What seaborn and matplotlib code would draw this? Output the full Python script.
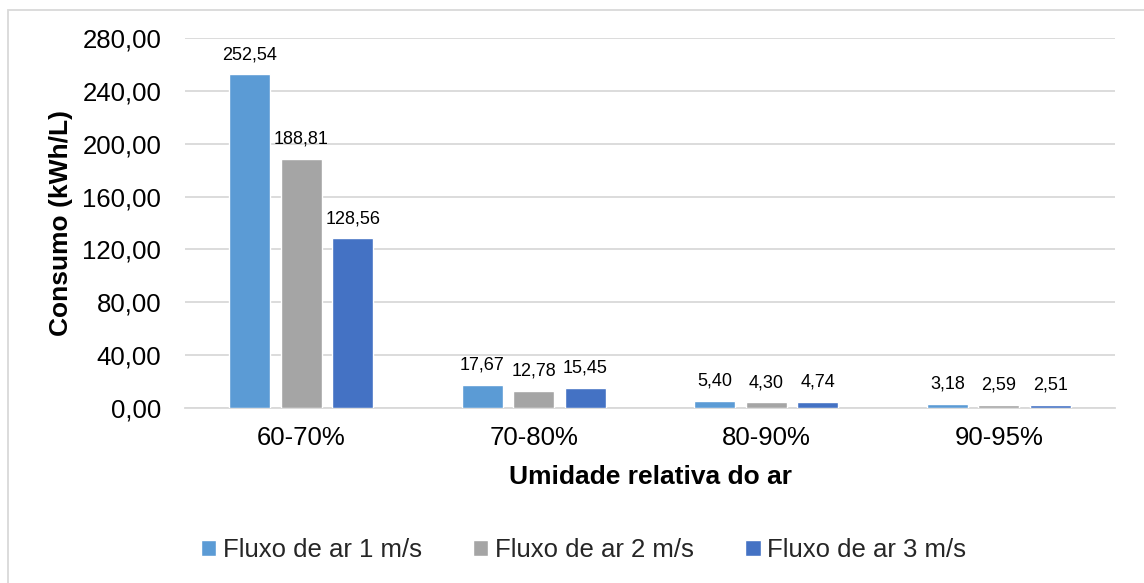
import matplotlib
matplotlib.use("Agg")
import matplotlib.pyplot as plt
from matplotlib.patches import Rectangle
import seaborn as sns
import pandas as pd

categorias = ["60-70%", "70-80%", "80-90%", "90-95%"]
series = ["Fluxo de ar 1 m/s", "Fluxo de ar 2 m/s", "Fluxo de ar 3 m/s"]
fluxo_1 = [252.54, 17.67, 5.40, 3.18]
fluxo_2 = [188.81, 12.78, 4.30, 2.59]
fluxo_3 = [128.56, 15.45, 4.74, 2.51]
cores = ["#5B9BD5", "#A5A5A5", "#4472C4"]
yticks = [0, 40, 80, 120, 160, 200, 240, 280]

rows = []
for nome, valores in zip(series, [fluxo_1, fluxo_2, fluxo_3]):
    for cat, v in zip(categorias, valores):
        rows.append({"Umidade": cat, "Consumo": v, "Fluxo": nome})
df = pd.DataFrame(rows)

sns.set_theme(style="white")
plt.rcParams["font.family"] = ["Liberation Sans", "DejaVu Sans"]

fig = plt.figure(figsize=(11.44, 5.83), dpi=100)
ax = fig.add_axes([0.1617, 0.3002, 0.8130, 0.6346])

sns.barplot(data=df, x="Umidade", y="Consumo", hue="Fluxo",
            order=categorias, hue_order=series, palette=cores,
            saturation=1, errorbar=None, width=0.664, gap=0.205,
            ax=ax, legend=True, zorder=3)

def fmt(v):
    return f"{v:.2f}".replace(".", ",")

for cont, valores in zip(ax.containers, [fluxo_1, fluxo_2, fluxo_3]):
    ax.bar_label(cont, labels=[fmt(v) for v in valores], padding=8,
                 fontsize=13, color="#000000")

ax.set_ylim(0, 280)
ax.set_yticks(yticks)
ax.set_yticklabels([fmt(v) for v in yticks])
ax.yaxis.grid(True, color="#D9D9D9", linewidth=1.3, zorder=0)
ax.set_axisbelow(True)
ax.tick_params(axis="y", length=0, pad=17, labelsize=18.5, labelcolor="#000000")
ax.tick_params(axis="x", length=0, pad=13, labelsize=18.5, labelcolor="#000000")

for s in ["left", "right", "top"]:
    ax.spines[s].set_visible(False)
ax.spines["bottom"].set_color("#D9D9D9")
ax.spines["bottom"].set_linewidth(1.3)

ax.set_xlabel("Umidade relativa do ar", fontsize=19, fontweight="bold",
              color="#000000", labelpad=11)
ax.set_ylabel("Consumo (kWh/L)", fontsize=19, fontweight="bold",
              color="#000000", labelpad=7)

handles, labels = ax.get_legend_handles_labels()
ax.legend(handles, labels, loc="center", bbox_to_anchor=(0.51, 0.057),
          bbox_transform=fig.transFigure, ncol=3, frameon=False,
          fontsize=18.5, handlelength=0.6, handleheight=0.6,
          handletextpad=0.25, columnspacing=2.0)

# chart area border
fig.patches.append(Rectangle((8 / 1144, -0.05), 1.2, 1 - 10 / 583 + 0.05,
                             transform=fig.transFigure, fill=False,
                             edgecolor="#D9D9D9", linewidth=1.3))

fig.savefig("out.png", dpi=100)
